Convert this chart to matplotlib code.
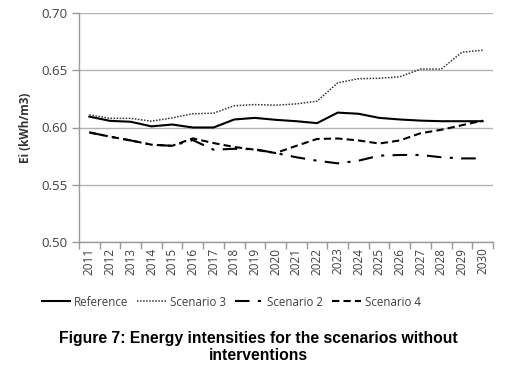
import matplotlib
matplotlib.use("Agg")
import matplotlib.pyplot as plt
import numpy as np

years = [str(y) for y in range(2011, 2031)]
reference = [0.6095, 0.6058, 0.605, 0.601, 0.6026, 0.600, 0.600, 0.607, 0.6084, 0.6067,
             0.6055, 0.6038, 0.613, 0.612, 0.6084, 0.607, 0.606, 0.6055, 0.6055, 0.6055]
scenario3 = [0.611, 0.608, 0.608, 0.6055, 0.6084, 0.612, 0.6125, 0.619, 0.620, 0.6195,
             0.6206, 0.623, 0.639, 0.6426, 0.643, 0.6443, 0.651, 0.651, 0.6658, 0.6675]
scenario2 = [0.5957, 0.592, 0.5887, 0.585, 0.584, 0.589, 0.5806, 0.5814, 0.581, 0.5777,
             0.574, 0.571, 0.5687, 0.571, 0.5754, 0.576, 0.576, 0.574, 0.573, 0.573]
scenario4 = [0.5957, 0.592, 0.5887, 0.585, 0.584, 0.5905, 0.5864, 0.583, 0.5806, 0.5777,
             0.584, 0.590, 0.5904, 0.5887, 0.586, 0.5887, 0.595, 0.598, 0.602, 0.606]
yticks = [0.50, 0.55, 0.60, 0.65, 0.70]

plt.rcParams['font.family'] = ['Open Sans', 'DejaVu Sans']
fig = plt.figure(figsize=(5.06, 3.70), dpi=100)
ax = fig.add_axes([79/506, 1-242/370, (493-79)/506, (242-13)/370])

x = np.arange(len(years))
ax.plot(x, reference, color='black', lw=1.5, ls='-', label='Reference')
ax.plot(x, scenario3, color='#333333', lw=1.1, ls=(0, (1, 1)), label='Scenario 3')
ax.plot(x, scenario2, color='black', lw=1.5, ls=(0, (7, 4, 1.5, 4)), label='Scenario 2')
ax.plot(x, scenario4, color='black', lw=1.5, ls=(0, (3.5, 2)), label='Scenario 4')

ax.set_ylim(0.50, 0.70)
ax.set_yticks(yticks)
ax.set_yticklabels([f"{v:.2f}" for v in yticks], fontsize=9.5, color='#404040')
ax.yaxis.grid(True, color='#b3b3b3', lw=1)
ax.set_axisbelow(True)

ax.set_xlim(-0.5, len(years) - 0.5)
ax.set_xticks(np.arange(-0.5, len(years), 1.0))
ax.set_xticklabels([])
ax.set_xticks(x, minor=True)
ax.set_xticklabels(years, minor=True, rotation=90, fontsize=8.5, color='#404040')
ax.tick_params(axis='x', which='major', length=5, color='#999999', width=1)
ax.tick_params(axis='x', which='minor', length=0, pad=4)
ax.tick_params(axis='y', length=5, color='#999999', width=1, pad=3)

for s in ['top', 'right']:
    ax.spines[s].set_visible(False)
for s in ['left', 'bottom']:
    ax.spines[s].set_color('#999999')
    ax.spines[s].set_linewidth(1)

ax.set_ylabel('Ei (kWh/m3)', fontsize=8.5, fontweight='bold', color='#333333', labelpad=7)

fig.legend(loc='center', bbox_to_anchor=(231/506, 1-302/370), ncol=4, frameon=False,
           fontsize=8.3, handlelength=2.5, columnspacing=0.8, handletextpad=0.3,
           labelcolor='#404040')

fig.text(258/506, 1-338/370, 'Figure 7: Energy intensities for the scenarios without',
         ha='center', va='center', fontsize=11.3, fontweight='bold',
         family=['Liberation Sans', 'DejaVu Sans'])
fig.text(258/506, 1-356/370, 'interventions',
         ha='center', va='center', fontsize=11.3, fontweight='bold',
         family=['Liberation Sans', 'DejaVu Sans'])

fig.savefig('out.png', dpi=100)
